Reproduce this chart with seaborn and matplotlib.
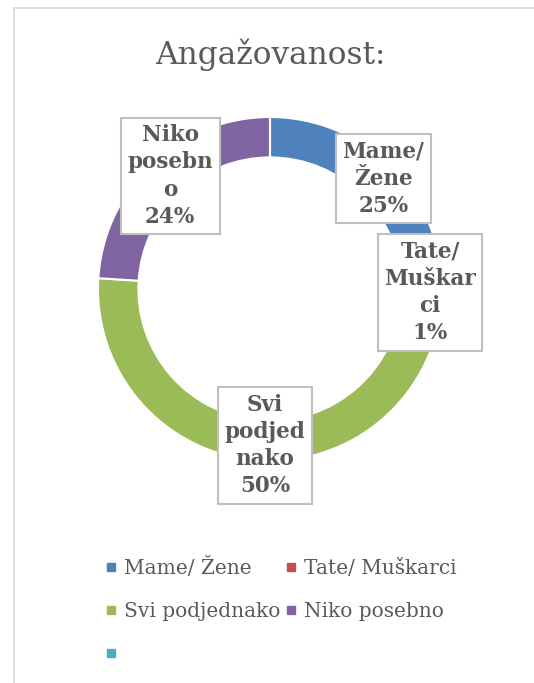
import matplotlib
matplotlib.use("Agg")
import matplotlib.pyplot as plt
from matplotlib.lines import Line2D
import seaborn as sns

# data
categories = ["Mame/ Žene", "Tate/ Muškarci", "Svi podjednako", "Niko posebno", ""]
values = [25, 1, 50, 24, 0]
# wrapped text as it appears in the data label boxes
box_names = ["Mame/\nŽene", "Tate/\nMuškar\nci", "Svi\npodjed\nnako", "Niko\nposebn\no", None]

colors = ["#4f81bd", "#c0504d", "#9bbb59", "#8064a2", "#4bacc6"]
# label box centres in axes data units (radius = 1)
box_pos = [(0.66, 0.64), (0.93, -0.02), (-0.03, -0.91), (-0.58, 0.657), None]

sns.set_theme(style="white")
plt.rcParams["font.family"] = ["DejaVu Serif"]
txt = "#595959"

fig = plt.figure(figsize=(5.34, 6.83), dpi=100)
W, H = 534, 683

# pie axes: centre (270, 289) px, radius 172 px
cx, cy, r = 270, 289, 172
ax = fig.add_axes([(cx - r) / W, (H - cy - r) / H, 2 * r / W, 2 * r / H])
wedges, _ = ax.pie(values, colors=colors, startangle=90, counterclock=False,
                   radius=1.0, wedgeprops=dict(width=0.235, edgecolor="white", linewidth=1.5))
ax.set_xlim(-1, 1)
ax.set_ylim(-1, 1)
ax.set_aspect("equal")

for name, v, pos in zip(box_names, values, box_pos):
    if name is None:
        continue
    ax.text(pos[0], pos[1], f"{name}\n{v}%", ha="center", va="center",
            fontsize=15.5, fontweight="bold", color=txt, linespacing=1.3,
            bbox=dict(boxstyle="square,pad=0.3", fc="white", ec="#bfbfbf", lw=1.5),
            clip_on=False, zorder=5)

fig.text(cx / W, (H - 55) / H, "Angažovanost:", ha="center", va="center",
         fontsize=22.5, color=txt)

# legend, filled row by row
handles = [Line2D([], [], marker="s", linestyle="none", markersize=6,
                  markerfacecolor=c, markeredgecolor=c) for c in colors]
order = [0, 2, 4, 1, 3]
leg = fig.legend([handles[i] for i in order], [categories[i] for i in order],
                 ncol=2, loc="upper left", bbox_to_anchor=(95 / W, 1 - 547 / H),
                 frameon=False, fontsize=14.5, handlelength=0.6, handletextpad=0.35,
                 columnspacing=0.2, labelspacing=1.2, borderpad=0)
for t in leg.get_texts():
    t.set_color(txt)

# chart frame
fc = "#d9d9d9"
fig.add_artist(Line2D([14 / W, 14 / W], [0, 1 - 8 / H], color=fc, lw=1.3, transform=fig.transFigure))
fig.add_artist(Line2D([14 / W, 1], [1 - 8 / H, 1 - 8 / H], color=fc, lw=1.3, transform=fig.transFigure))

fig.savefig("out.png", dpi=100, facecolor="white")
